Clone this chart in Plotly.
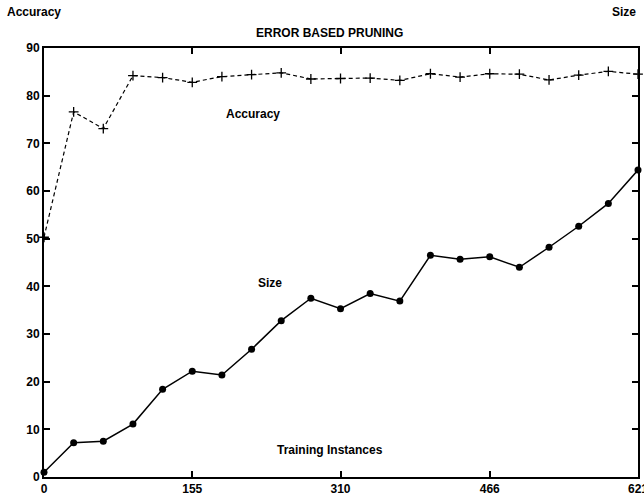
import plotly.graph_objects as go

instances = [0, 31, 62, 93, 124, 155, 186, 217, 248, 279, 310, 341, 372, 404, 435, 466, 497, 528, 559, 590, 621]
accuracy = [50.3, 76.6, 73.1, 84.2, 83.8, 82.8, 84.0, 84.4, 84.8, 83.5, 83.6, 83.7, 83.2, 84.6, 83.9, 84.6, 84.5, 83.3, 84.3, 85.1, 84.5]
size = [1.0, 7.2, 7.5, 11.1, 18.4, 22.2, 21.4, 26.8, 32.8, 37.5, 35.3, 38.5, 36.9, 46.5, 45.7, 46.2, 44.0, 48.2, 52.6, 57.4, 64.4]
x_ticks = [0, 155, 310, 466, 621]
y_ticks = [0, 10, 20, 30, 40, 50, 60, 70, 80, 90]

font = dict(family="Liberation Sans, Arial, sans-serif", size=12, color="black", weight="bold")

fig = go.Figure()
fig.add_trace(go.Scatter(
    x=instances, y=accuracy, mode="lines+markers",
    line=dict(color="black", width=1.2, dash="4px,3px"),
    marker=dict(symbol="cross-thin", size=7, line=dict(color="black", width=1.3)),
    cliponaxis=False, showlegend=False))
fig.add_trace(go.Scatter(
    x=instances, y=size, mode="lines+markers",
    line=dict(color="black", width=1.5),
    marker=dict(symbol="circle", size=7, color="black"),
    cliponaxis=False, showlegend=False))

fig.update_layout(
    width=644, height=498,
    margin=dict(l=44, r=6, t=48, b=21),
    paper_bgcolor="white", plot_bgcolor="white",
    font=font,
    xaxis=dict(range=[0, 621], tickvals=x_ticks, ticktext=[str(v) for v in x_ticks],
               ticks="inside", ticklen=6, tickwidth=1.5, tickcolor="black",
               showline=True, linecolor="black", linewidth=2, mirror="ticks",
               showgrid=False, zeroline=False, automargin=False, tickfont=font,
               ticklabeloverflow="allow"),
    yaxis=dict(range=[0, 90], tickvals=y_ticks,
               ticks="inside", ticklen=6, tickwidth=1.5, tickcolor="black",
               showline=True, linecolor="black", linewidth=2, mirror="ticks",
               showgrid=False, zeroline=False, automargin=False, tickfont=font),
    annotations=[
        dict(text="Accuracy", xref="paper", yref="paper", x=-0.065, y=1.083, xanchor="left", yanchor="middle", showarrow=False, font=font),
        dict(text="Size", xref="paper", yref="paper", x=1.0, y=1.083, xanchor="right", yanchor="middle", showarrow=False, font=font),
        dict(text="ERROR BASED PRUNING", xref="paper", yref="paper", x=0.48, y=1.035, xanchor="center", yanchor="middle", showarrow=False, font=font),
        dict(text="Accuracy", xref="x", yref="y", x=218, y=76.1, xanchor="center", yanchor="middle", showarrow=False, font=font),
        dict(text="Size", xref="x", yref="y", x=236, y=40.7, xanchor="center", yanchor="middle", showarrow=False, font=font),
        dict(text="Training Instances", xref="x", yref="y", x=299, y=5.6, xanchor="center", yanchor="middle", showarrow=False, font=font),
    ],
)
fig.write_html("out.html", config={"displayModeBar": False},
               post_script="document.body.style.margin='0px';document.body.style.overflow='hidden';")
